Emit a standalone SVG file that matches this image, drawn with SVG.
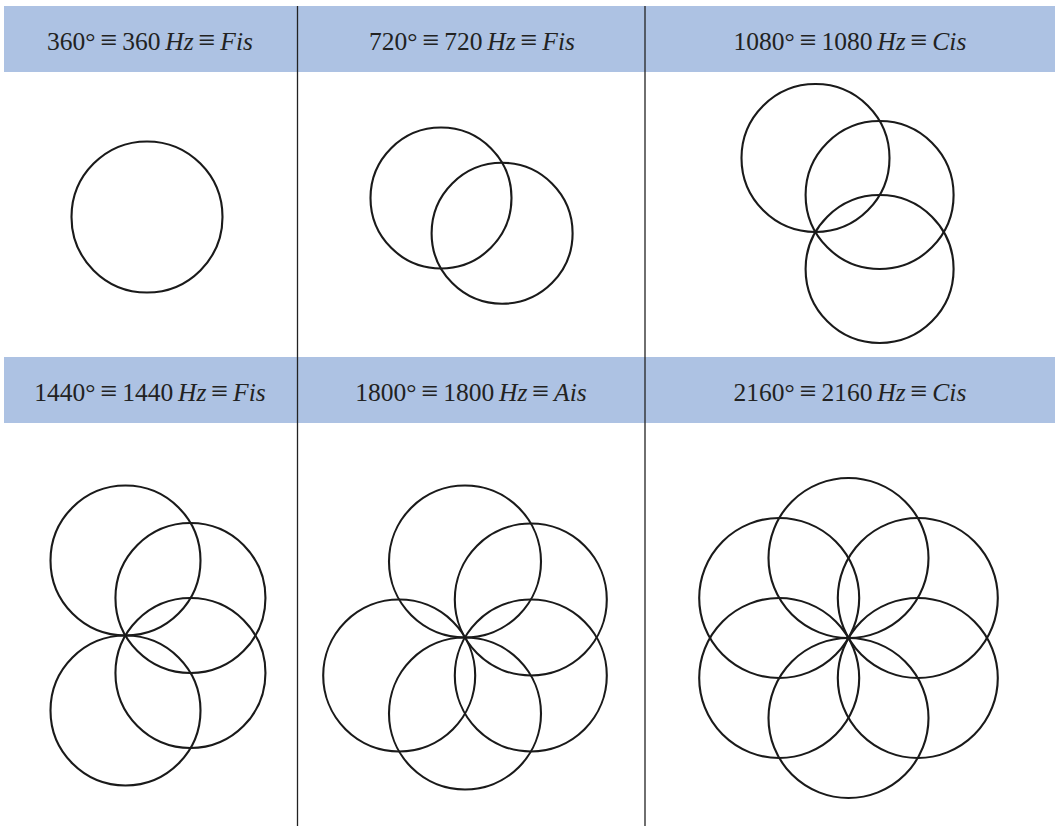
<svg xmlns="http://www.w3.org/2000/svg" width="1056" height="826" viewBox="0 0 1056 826">
<style>
.band{fill:#adc2e3}
.hdr{font-family:"Liberation Serif","DejaVu Serif",serif;font-size:25.5px;fill:#222;text-anchor:middle;word-spacing:-1.5px}
.it{font-style:italic}
.eq{font-size:30px}
.c{fill:none;stroke:#1a1a1a;stroke-width:2.1}
.sep{stroke:#222;stroke-width:1.3}
</style>
<rect width="1056" height="826" fill="#fff"/>
<g id="headers">
<rect class="band" x="4" y="6" width="1051" height="66"/>
<rect class="band" x="4" y="357" width="1051" height="66"/>
<text class="hdr" x="150" y="50">360° <tspan class="eq">≡</tspan> 360 <tspan class="it">Hz</tspan> <tspan class="eq">≡</tspan> <tspan class="it">Fis</tspan></text>
<text class="hdr" x="472" y="50">720° <tspan class="eq">≡</tspan> 720 <tspan class="it">Hz</tspan> <tspan class="eq">≡</tspan> <tspan class="it">Fis</tspan></text>
<text class="hdr" x="850" y="50">1080° <tspan class="eq">≡</tspan> 1080 <tspan class="it">Hz</tspan> <tspan class="eq">≡</tspan> <tspan class="it">Cis</tspan></text>
<text class="hdr" x="150" y="401">1440° <tspan class="eq">≡</tspan> 1440 <tspan class="it">Hz</tspan> <tspan class="eq">≡</tspan> <tspan class="it">Fis</tspan></text>
<text class="hdr" x="471" y="401">1800° <tspan class="eq">≡</tspan> 1800 <tspan class="it">Hz</tspan> <tspan class="eq">≡</tspan> <tspan class="it">Ais</tspan></text>
<text class="hdr" x="850" y="401">2160° <tspan class="eq">≡</tspan> 2160 <tspan class="it">Hz</tspan> <tspan class="eq">≡</tspan> <tspan class="it">Cis</tspan></text>
</g>
<g id="separators">
<line class="sep" x1="297.5" y1="6" x2="297.5" y2="826"/>
<line class="sep" x1="645" y1="6" x2="645" y2="826"/>
</g>
<g id="panel-360">
<circle class="c" cx="147" cy="217" r="75.5"/>
</g>
<g id="panel-720">
<circle class="c" cx="441" cy="198" r="70.5"/>
<circle class="c" cx="502.1" cy="233.25" r="70.5"/>
</g>
<g id="panel-1080">
<circle class="c" cx="815.5" cy="158" r="74"/>
<circle class="c" cx="879.6" cy="195" r="74"/>
<circle class="c" cx="879.6" cy="269" r="74"/>
</g>
<g id="panel-1440">
<circle class="c" cx="125.5" cy="560.5" r="75"/>
<circle class="c" cx="190.45" cy="598" r="75"/>
<circle class="c" cx="190.45" cy="673" r="75"/>
<circle class="c" cx="125.5" cy="710.5" r="75"/>
</g>
<g id="panel-1800">
<circle class="c" cx="465" cy="561.5" r="76"/>
<circle class="c" cx="530.8" cy="599.5" r="76"/>
<circle class="c" cx="530.8" cy="675.5" r="76"/>
<circle class="c" cx="465" cy="713.5" r="76"/>
<circle class="c" cx="399.2" cy="675.5" r="76"/>
</g>
<g id="panel-2160">
<circle class="c" cx="848.5" cy="558" r="80"/>
<circle class="c" cx="917.8" cy="598" r="80"/>
<circle class="c" cx="917.8" cy="678" r="80"/>
<circle class="c" cx="848.5" cy="718" r="80"/>
<circle class="c" cx="779.2" cy="678" r="80"/>
<circle class="c" cx="779.2" cy="598" r="80"/>
</g>
</svg>
